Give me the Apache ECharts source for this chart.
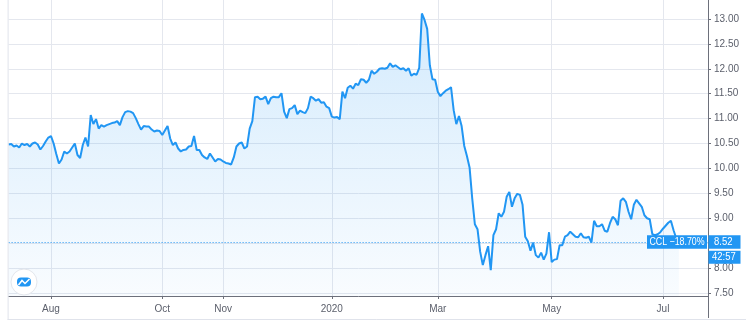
<!DOCTYPE html>
<html><head><meta charset="utf-8">
<script src="https://cdn.jsdelivr.net/npm/echarts@6/dist/echarts.min.js"></script>
<style>html,body{margin:0;padding:0;background:#fff}#c{width:751px;height:323px}</style>
</head><body><div id="c"></div>
<script>
// ---- data ----
const startDate = [2019, 6, 10]; // 2019-07-10 (month 0-based)
const holidays = ['2019-09-02','2019-11-28','2019-12-25','2020-01-01','2020-01-20','2020-02-17','2020-04-10','2020-05-25','2020-07-03'];
const totalSlots = 265;
const closes = [
10.48,10.49,10.44,10.46,10.42,10.50,10.47,10.49,10.44,10.50,
10.52,10.48,10.38,10.45,10.54,10.62,10.65,10.50,10.29,10.10,
10.18,10.34,10.30,10.34,10.42,10.50,10.27,10.21,10.47,10.62,
10.44,11.07,10.89,10.99,10.80,10.87,10.84,10.87,10.89,10.91,
10.92,10.95,10.87,11.03,11.13,11.15,11.14,11.11,11.01,10.89,
10.78,10.85,10.84,10.84,10.78,10.74,10.76,10.75,10.67,10.76,
10.85,10.60,10.47,10.52,10.40,10.34,10.37,10.38,10.44,10.45,
10.65,10.37,10.37,10.27,10.22,10.19,10.30,10.22,10.14,10.19,
10.18,10.14,10.11,10.10,10.08,10.22,10.44,10.50,10.52,10.40,
10.44,10.80,10.95,11.43,11.44,11.39,11.40,11.44,11.29,11.41,
11.44,11.43,11.43,11.51,11.14,11.01,11.19,11.21,11.27,11.09,
11.16,11.13,11.11,11.21,11.44,11.41,11.36,11.39,11.32,11.33,
11.24,11.21,11.04,11.02,11.03,10.99,11.54,11.41,11.62,11.66,
11.60,11.70,11.67,11.79,11.78,11.72,11.78,11.96,11.90,11.94,
12.00,12.01,12.00,12.02,12.11,12.04,12.07,12.03,11.99,12.01,
11.96,12.01,11.86,11.90,11.88,12.02,13.11,12.98,12.80,12.07,
11.79,11.78,11.54,11.45,11.51,11.56,11.59,11.63,11.17,10.89,
11.05,10.85,10.45,10.25,10.02,9.40,8.88,8.78,8.33,8.06,
8.26,8.44,7.96,8.66,8.78,9.10,9.03,9.13,9.43,9.53,
9.23,9.40,9.49,9.47,9.27,8.63,8.54,8.35,8.51,8.26,
8.21,8.31,8.17,8.29,8.72,8.12,8.17,8.18,8.46,8.46,
8.63,8.66,8.73,8.68,8.63,8.62,8.70,8.62,8.61,8.63,
8.51,8.95,8.84,8.84,8.88,8.75,8.73,8.90,9.03,8.98,
8.86,9.35,9.40,9.33,9.13,8.98,9.27,9.37,9.30,9.23,
9.06,9.00,8.98,8.68,8.66,8.68,8.72,8.79,8.85,8.91,
8.95,8.76,8.60,8.52
];
const monthTicks = ['2019-08','2019-10','2019-11','2020-01','2020-03','2020-05','2020-07'];
const monthTickLabels = ['Aug','Oct','Nov','2020','Mar','May','Jul'];
const yTicks = [7.5,8,8.5,9,9.5,10,10.5,11,11.5,12,12.5,13];
const yMin = 7.44, yMax = 13.38;
const symbolName = 'CCL';
const changeText = '\u221218.70%';
const lastPrice = 8.52;
const countdown = '42:57';

// ---- build ----
function pad(n){return n<10?'0'+n:''+n;}
const dates = [];
const d = new Date(Date.UTC(startDate[0], startDate[1], startDate[2]));
while (dates.length < totalSlots) {
  const dow = d.getUTCDay();
  const s = d.getUTCFullYear()+'-'+pad(d.getUTCMonth()+1)+'-'+pad(d.getUTCDate());
  if (dow !== 0 && dow !== 6 && holidays.indexOf(s) < 0) dates.push(s);
  d.setUTCDate(d.getUTCDate()+1);
}
const tickIndex = {};
monthTicks.forEach((m, k) => {
  const idx = dates.findIndex(s => s.indexOf(m) === 0);
  if (idx >= 0) tickIndex[idx] = monthTickLabels[k];
});
const showTick = (i) => Object.prototype.hasOwnProperty.call(tickIndex, i);

const FONT = "'Liberation Sans',Arial,sans-serif";
const TXT = '#5b5f6b';
const GRIDC = '#e4e7ee';
const AXC = '#6d707b';
const BLUE = '#2196f3';

const chart = echarts.init(document.getElementById('c'), null, {renderer:'canvas'});
chart.setOption({
  animation: false,
  backgroundColor: '#fff',
  grid: {left: 8.6, right: 43, top: 0, bottom: 27, containLabel: false},
  xAxis: {
    type: 'category', data: dates, boundaryGap: false,
    axisLine: {show: true, lineStyle: {color: AXC, width: 1}},
    axisTick: {show: true, interval: (i) => showTick(i), length: 3, lineStyle: {color: AXC}},
    splitLine: {show: true, interval: (i) => showTick(i), lineStyle: {color: GRIDC, width: 1}},
    axisLabel: {interval: (i) => showTick(i),
      formatter: (v, i) => tickIndex[i] || '', color: TXT, fontSize: 10, fontFamily: FONT, margin: 8}
  },
  yAxis: {
    type: 'value', position: 'right', min: yMin, max: yMax, scale: true,
    axisLine: {show: true, lineStyle: {color: AXC, width: 1}},
    axisTick: {show: true, length: 3, customValues: yTicks, lineStyle: {color: AXC}},
    splitLine: {show: true, lineStyle: {color: GRIDC, width: 1}},
    axisLabel: {customValues: yTicks, formatter: v => v.toFixed(2), color: TXT, fontSize: 10, fontFamily: FONT, margin: 6}
  },
  series: [{
    type: 'line', data: closes, showSymbol: false, symbol: 'none',
    lineStyle: {color: BLUE, width: 2},
    areaStyle: {origin: 'start', color: new echarts.graphic.LinearGradient(0,0,0,1,[
      {offset: 0, color: 'rgba(33,150,243,0.28)'},
      {offset: 1, color: 'rgba(33,150,243,0.04)'}
    ])},
    markLine: {
      silent: true, symbol: 'none',
      lineStyle: {color: BLUE, type: [1, 2], width: 1},
      label: {show: false},
      data: [{yAxis: lastPrice}]
    }
  }]
});

const yPx = chart.convertToPixel({yAxisIndex: 0}, lastPrice);
const xRight = chart.convertToPixel({xAxisIndex: 0}, totalSlots - 1);
const yBottom = chart.convertToPixel({yAxisIndex: 0}, yMin);
const xLeft = chart.convertToPixel({xAxisIndex: 0}, 0);
const tf = {fontFamily: FONT, fontSize: 10.5, fill: '#fff'};
const Z = 100;
chart.setOption({graphic: [
  {type:'line', z:Z, shape:{x1:xLeft-0.5, y1:0, x2:xLeft-0.5, y2:yBottom+24}, style:{stroke:'#e0e3eb', lineWidth:1}, silent:true},
  {type:'line', z:Z, shape:{x1:xLeft-1, y1:yBottom+23.5, x2:746, y2:yBottom+23.5}, style:{stroke:'#e0e3eb', lineWidth:1}, silent:true},
  {type:'line', z:Z, shape:{x1:Math.round(xRight)+0.5, y1:yBottom, x2:Math.round(xRight)+0.5, y2:yBottom+22}, style:{stroke:AXC, lineWidth:1}, silent:true},
  {type:'rect', z:Z, shape:{x:xRight-61, y:yPx-7, width:60, height:13.5}, style:{fill:BLUE}, silent:true},
  {type:'text', z:Z+1, x:xRight-31, y:yPx, scaleX:0.84, style:Object.assign({text: symbolName+' '+changeText, align:'center', verticalAlign:'middle'}, tf), silent:true},
  {type:'rect', z:Z, shape:{x:xRight+0.5, y:yPx-7, width:32, height:13.5}, style:{fill:BLUE}, silent:true},
  {type:'text', z:Z+1, x:xRight+6, y:yPx, scaleX:0.9, style:Object.assign({text: lastPrice.toFixed(2), align:'left', verticalAlign:'middle'}, tf), silent:true},
  {type:'rect', z:Z, shape:{x:xRight+0.5, y:yPx+8.5, width:32, height:13}, style:{fill:BLUE}, silent:true},
  {type:'text', z:Z+1, x:xRight+4, y:yPx+15, scaleX:0.9, style:Object.assign({text: countdown, align:'left', verticalAlign:'middle'}, tf), silent:true},
  {type:'circle', z:Z, shape:{cx:24, cy:282, r:13}, style:{fill:'#fff', stroke:'#e3e6ec', lineWidth:1}, silent:true},
  {type:'rect', z:Z+1, shape:{x:17, y:277.5, width:14, height:9, r:4}, style:{fill:BLUE}, silent:true},
  {type:'polyline', z:Z+2, shape:{points:[[18.5,285],[22,280.5],[25,283.5],[29.5,279]]}, style:{stroke:'#fff', lineWidth:1.5, fill:null}, silent:true}
]});
</script>
</body></html>
